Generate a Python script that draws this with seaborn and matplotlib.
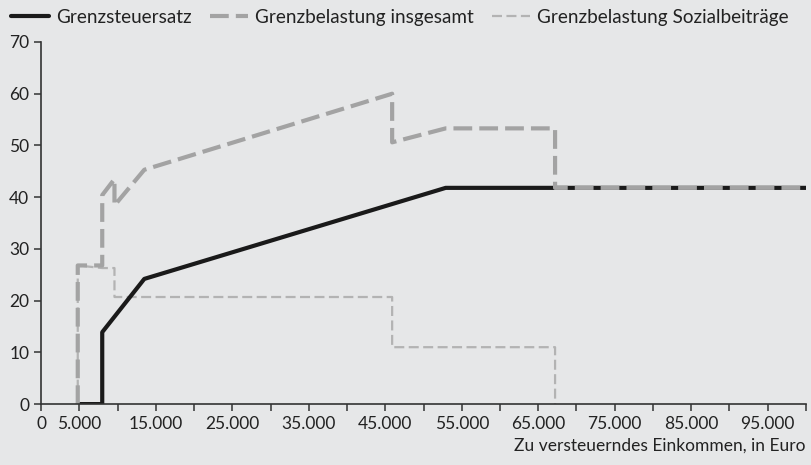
import numpy as np
import pandas as pd
import matplotlib
matplotlib.use('Agg')
import matplotlib.pyplot as plt
import seaborn as sns

# Werte (Einkommen in Euro, Satz in Prozent)
steuer_x = [4800, 8000, 8000, 13500, 52900, 100000]
steuer_y = [0, 0, 13.9, 24.2, 41.8, 41.8]

gesamt_x = [4800, 4800, 8000, 8000, 9600, 9600, 13500, 45900, 45900, 52900, 67200, 67200, 100000]
gesamt_y = [0, 26.8, 26.8, 40.4, 43.5, 38.4, 45.3, 60.0, 50.6, 53.3, 53.3, 41.8, 41.8]

sozial_x = [4800, 4800, 8000, 9600, 9600, 45900, 45900, 67200, 67200]
sozial_y = [0, 26.8, 26.3, 26.3, 20.7, 20.7, 11.0, 11.0, 0]

xtick_pos = list(range(0, 100001, 5000))
xtick_lab = ['0', '5.000', '', '15.000', '', '25.000', '', '35.000', '', '45.000', '',
             '55.000', '', '65.000', '', '75.000', '', '85.000', '', '95.000', '']
ytick_pos = [0, 10, 20, 30, 40, 50, 60, 70]

sns.set_theme(style='ticks')
plt.rcParams['font.family'] = ['Lato', 'DejaVu Sans']
bg = '#e6e7e8'

fig = plt.figure(figsize=(8.11, 4.65), dpi=100, facecolor=bg)
ax = fig.add_axes([0.0506, 0.131, 0.9432, 0.7787], facecolor=bg)

sozial = pd.DataFrame({'x': sozial_x, 'y': sozial_y})
gesamt = pd.DataFrame({'x': gesamt_x, 'y': gesamt_y})
steuer = pd.DataFrame({'x': steuer_x, 'y': steuer_y})

sns.lineplot(data=sozial, x='x', y='y', ax=ax, estimator=None, sort=False,
             color='#b3b3b3', lw=1.6, linestyle=(0, (4.5, 2.0)),
             label='Grenzbelastung Sozialbeiträge')
sns.lineplot(data=steuer, x='x', y='y', ax=ax, estimator=None, sort=False,
             color='#1a1a1a', lw=3.0, label='Grenzsteuersatz')
sns.lineplot(data=gesamt, x='x', y='y', ax=ax, estimator=None, sort=False,
             color='#a3a3a3', lw=3.0, linestyle=(0, (4.5, 1.7)),
             label='Grenzbelastung insgesamt')

ax.set_xlim(0, 100000)
ax.set_ylim(0, 70)
ax.set_xticks(xtick_pos)
ax.set_xticklabels(xtick_lab)
ax.set_yticks(ytick_pos)
ax.tick_params(axis='both', labelsize=12.5, colors='#333333', labelcolor='#222222',
               length=5, width=1.1, direction='out')
for s in ['top', 'right']:
    ax.spines[s].set_visible(False)
for s in ['left', 'bottom']:
    ax.spines[s].set_color('#333333')
    ax.spines[s].set_linewidth(1.2)

ax.set_ylabel('')
ax.set_xlabel('Zu versteuerndes Einkommen, in Euro', fontsize=12.5, color='#222222',
              loc='right', labelpad=4)

handles, labels = ax.get_legend_handles_labels()
order = [1, 2, 0]
ax.legend_.remove()
fig.legend([handles[i] for i in order], [labels[i] for i in order],
           loc='upper left', bbox_to_anchor=(0.0, 1.005), ncol=3, frameon=False,
           fontsize=13.6, handlelength=2.0, handletextpad=0.35, columnspacing=1.0,
           borderaxespad=0.2, labelcolor='#222222')

plt.savefig('out.png', dpi=100, facecolor=bg)
